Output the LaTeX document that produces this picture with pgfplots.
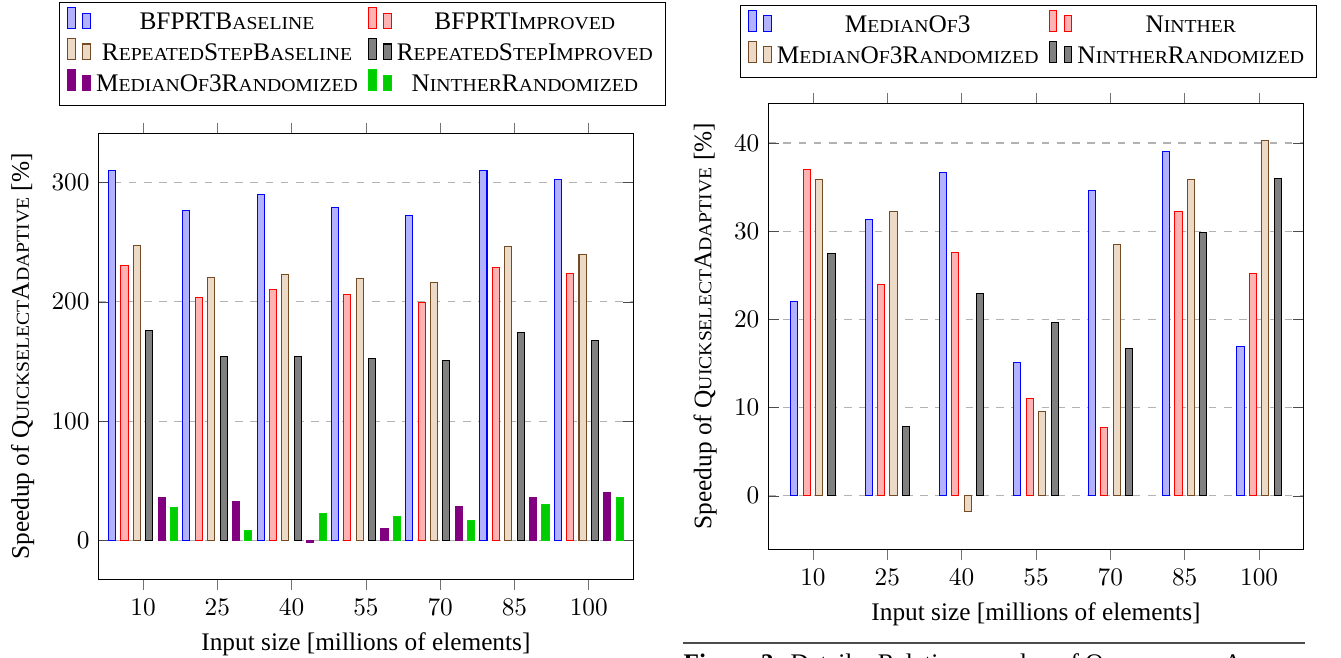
\documentclass[border=0pt]{standalone}
\usepackage{fontspec}
\setmainfont{Liberation Serif}
\newfontfamily\scfam[Scale=0.72,FakeStretch=1.08]{Liberation Serif}
\newcommand\sm[1]{{\scfam #1}}
\usepackage{pgfplots}
\pgfplotsset{compat=1.18}
\pgfplotsset{
  mybar/.style={
    ybar, bar width=2.8pt, ybar=2.1pt,
    scale only axis, enlargelimits=false,
    xmin=1, xmax=109,
    xtick={10,25,40,55,70,85,100},
    xtick align=outside,
    xtick pos=both,
    x tick style={black!55},
    y tick style={black!70},
    ymajorgrids, grid style={dashed, black!30},
    legend columns=2, legend cell align=center,
    legend style={draw=black, anchor=south, font=\normalsize,
      /tikz/every even column/.append style={column sep=2pt}},
    xlabel={Input size [millions of elements]},
    ylabel={Speedup of Q\sm{UICKSELECT}A\sm{DAPTIVE} [\%]},
  },
  sBlue/.style={draw=blue, fill=blue!30},
  sRed/.style={draw=red, fill=red!30},
  sBrown/.style={draw=brown!60!black, fill=brown!30},
  sBlack/.style={draw=black, fill=black!50},
  sViolet/.style={draw=violet, fill=violet},
  sGreen/.style={draw=green!85!black, fill=green!80!black},
}
\begin{document}
\begin{tikzpicture}
\path[use as bounding box] (0,0) rectangle (529.7pt,-259.9pt);
% left chart
\begin{axis}[mybar,
  at={(38.91pt,-228.82pt)}, anchor=south west,
  width=211.25pt, height=176.01pt,
  ymin=-32.3, ymax=340.7,
  ytick={0,100,200,300},
  legend style={at={(0.4937,1.062)}},
]
\addplot[sBlue] coordinates {(10,309.5) (25,276.3) (40,289.7) (55,279.1) (70,272.4) (85,309.5) (100,302.5)};
\addlegendentry{BFPRTB\sm{ASELINE}}
\addplot[sRed] coordinates {(10,230.5) (25,204.0) (40,210.4) (55,205.7) (70,199.0) (85,229.1) (100,223.8)};
\addlegendentry{BFPRTI\sm{MPROVED}}
\addplot[sBrown] coordinates {(10,247.5) (25,220.5) (40,222.7) (55,219.9) (70,216.0) (85,246.4) (100,239.7)};
\addlegendentry{R\sm{EPEATED}S\sm{TEP}B\sm{ASELINE}}
\addplot[sBlack] coordinates {(10,175.8) (25,154.3) (40,154.3) (55,152.4) (70,151.0) (85,173.9) (100,168.0)};
\addlegendentry{R\sm{EPEATED}S\sm{TEP}I\sm{MPROVED}}
\addplot[sViolet] coordinates {(10,36.3) (25,32.7) (40,-1.7) (55,10.3) (70,29.0) (85,36.3) (100,40.7)};
\addlegendentry{M\sm{EDIAN}O\sm{F}3R\sm{ANDOMIZED}}
\addplot[sGreen] coordinates {(10,27.9) (25,8.4) (40,22.9) (55,20.1) (70,17.3) (85,30.4) (100,36.3)};
\addlegendentry{N\sm{INTHER}R\sm{ANDOMIZED}}
\end{axis}
% right chart
\begin{axis}[mybar,
  at={(303.48pt,-216.86pt)}, anchor=south west,
  width=211.48pt, height=176.05pt,
  ymin=-6.04, ymax=44.5,
  ytick={0,10,20,30,40},
  legend style={at={(0.486,1.057)}},
]
\addplot[sBlue] coordinates {(10,22.0) (25,31.3) (40,36.6) (55,15.1) (70,34.6) (85,39.0) (100,16.9)};
\addlegendentry{M\sm{EDIAN}O\sm{F}3}
\addplot[sRed] coordinates {(10,37.0) (25,23.9) (40,27.6) (55,11.0) (70,7.75) (85,32.2) (100,25.2)};
\addlegendentry{N\sm{INTHER}}
\addplot[sBrown] coordinates {(10,35.9) (25,32.2) (40,-1.8) (55,9.5) (70,28.5) (85,35.9) (100,40.3)};
\addlegendentry{M\sm{EDIAN}O\sm{F}3R\sm{ANDOMIZED}}
\addplot[sBlack] coordinates {(10,27.5) (25,7.9) (40,22.9) (55,19.7) (70,16.7) (85,29.9) (100,36.0)};
\addlegendentry{N\sm{INTHER}R\sm{ANDOMIZED}}
\end{axis}
\draw[black!70, line width=0.5pt] (269.8pt,-254.0pt) -- (515.5pt,-254.0pt);
\node[anchor=north west, inner sep=0pt] at (269.8pt,-258.0pt)
  {\textbf{Figure 3:} Details: Relative speedup of Q\sm{UICKSELECT}A\sm{DAPTIVE}};
\end{tikzpicture}
\end{document}
